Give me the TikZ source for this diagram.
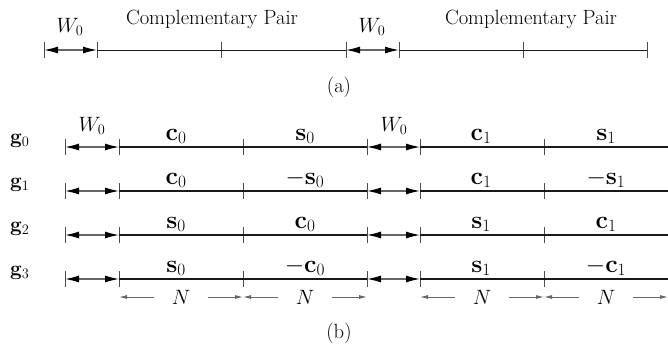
\documentclass[tikz,border=0pt]{standalone}
\usepackage{amsmath}
\usetikzlibrary{arrows.meta,positioning,calc}
\colorlet{tickgray}{black!70}
\colorlet{shaftgray}{black!60}
\colorlet{lineblack}{black!90}

\begin{document}
\begin{tikzpicture}[
      x=1pt, y=-1pt,
      font=\fontsize{20}{24}\selectfont,
      seg/.style={draw=lineblack, line width=1.4pt},
      thinseg/.style={draw=lineblack, line width=1pt},
      tick/.style={draw=tickgray, line width=0.9pt},
      warr/.style={{Latex[length=14pt,width=7pt,color=black]}-{Latex[length=14pt,width=7pt,color=black]},
                   draw=shaftgray, line width=1.2pt},
      narr/.style={-{Latex[length=8pt,width=4pt]}, draw=shaftgray, line width=0.9pt},
      lab/.style={inner sep=0pt, anchor=base},
      txt/.style={lab, font=\fontsize{20.6}{24}\selectfont},
      vlab/.style={lab, font=\fontsize{23}{27}\selectfont},
      glab/.style={inner sep=0pt, anchor=base west, font=\fontsize{22}{26}\selectfont},
      nlab/.style={inner sep=0pt, minimum width=53pt}
    ]
    \useasboundingbox (0,0) rectangle (668,348);

    % (a) one frame of W_0 and the complementary pair
    \foreach \x [count=\i] in {44,97,221,346,399,523,647} {
      \coordinate (a\i) at (\x,50);
      \draw[tick] ([yshift=8pt]a\i) -- ([yshift=-8pt]a\i);
    }
    \draw[warr] (a1) -- (a2);
    \draw[thinseg] (a2) -- (a4);
    \draw[warr] (a4) -- (a5);
    \draw[thinseg] (a5) -- (a7);
    \node[lab] (wa1) at (70,32) {$W_0$};
    \node[lab] (wa2) at (372,32) {$W_0$};
    \node[txt] (cpa1) at (212,24) {Complementary Pair};
    \node[txt] (cpa2) at (531,24) {Complementary Pair};
    \node[txt] (capa) at (339,92) {(a)};

    % (b) the four sequences g_0 ... g_3
    \foreach \r/\y/\la/\lb/\lc/\ld in {
        0/147/\mathbf{c}_0/\mathbf{s}_0/\mathbf{c}_1/\mathbf{s}_1,
        1/191/\mathbf{c}_0/-\mathbf{s}_0/\mathbf{c}_1/-\mathbf{s}_1,
        2/235/\mathbf{s}_0/\mathbf{c}_0/\mathbf{s}_1/\mathbf{c}_1,
        3/279/\mathbf{s}_0/-\mathbf{c}_0/\mathbf{s}_1/-\mathbf{c}_1} {
      \foreach \x [count=\i] in {65,119,243,367,420,544} {
        \coordinate (r\r-\i) at (\x,\y);
        \draw[tick] ([yshift=8pt]r\r-\i) -- ([yshift=-8pt]r\r-\i);
      }
      \coordinate (r\r-7) at (668,\y);
      \draw[warr] (r\r-1) -- (r\r-2);
      \draw[seg] (r\r-2) -- (r\r-4);
      \draw[warr] (r\r-4) -- (r\r-5);
      \draw[seg] (r\r-5) -- (r\r-7);
      \node[glab] (g\r) at (10,\y-4) {$\mathbf{g}_\r$};
      \node[vlab] (la\r) at (176,\y-7) {$\la$};
      \node[vlab] (lb\r) at (305,\y-7) {$\lb$};
      \node[vlab] (lc\r) at (481,\y-7) {$\lc$};
      \node[vlab] (ld\r) at (606,\y-7) {$\ld$};
    }
    \node[lab] (wb1) at (92,131) {$W_0$};
    \node[lab] (wb2) at (394,131) {$W_0$};

    % lengths N below the last row
    \foreach \i/\a/\b in {1/2/3, 2/3/4, 3/5/6, 4/6/7} {
      \node[nlab] (n\i) at ($(r3-\a)!0.5!(r3-\b)+(0,18)$) {$N$};
      \draw[narr] (n\i.west) -- (r3-\a |- n\i.west);
      \draw[narr] (n\i.east) -- (r3-\b |- n\i.east);
    }
    \node[txt] (capb) at (339,338) {(b)};
  \end{tikzpicture}
\end{document}
